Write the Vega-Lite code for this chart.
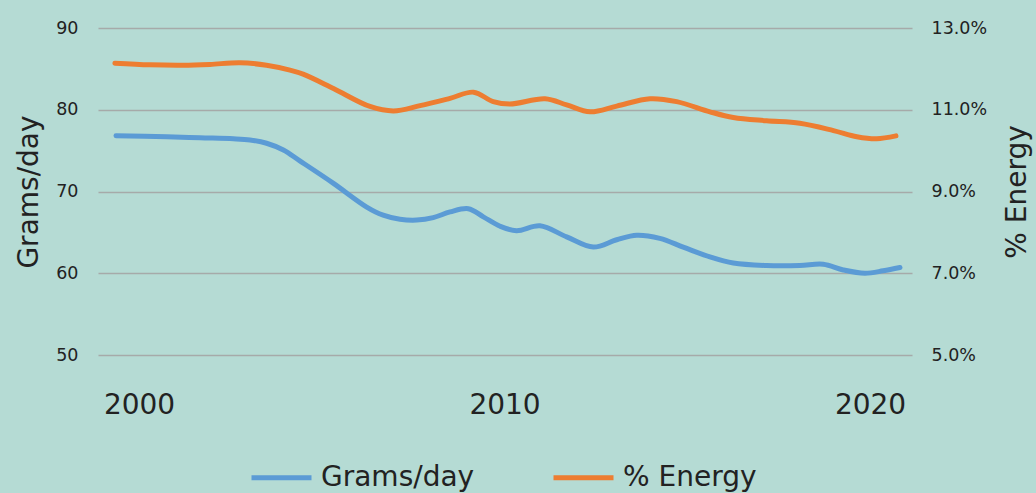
{
  "$schema": "https://vega.github.io/schema/vega-lite/v6.json",
  "width": 814,
  "height": 327,
  "autosize": {"type": "none"},
  "padding": {"left": 98, "top": 28, "right": 124, "bottom": 138},
  "background": "#b5dbd4",
  "config": {
    "view": {"stroke": null},
    "font": "DejaVu Sans",
    "axis": {"labelColor": "#222222", "titleColor": "#222222", "labelFont": "DejaVu Sans", "titleFont": "DejaVu Sans", "titleFontWeight": "normal"},
    "legend": {"labelColor": "#222222", "labelFont": "DejaVu Sans"}
  },
  "data": {
    "values": [
      {"year": 1999.37, "series": "Grams/day", "value": 76.82},
      {"year": 2000.76, "series": "Grams/day", "value": 76.70},
      {"year": 2001.67, "series": "Grams/day", "value": 76.57},
      {"year": 2002.58, "series": "Grams/day", "value": 76.45},
      {"year": 2003.04, "series": "Grams/day", "value": 76.30},
      {"year": 2003.49, "series": "Grams/day", "value": 75.90},
      {"year": 2003.95, "series": "Grams/day", "value": 75.07},
      {"year": 2004.40, "series": "Grams/day", "value": 73.75},
      {"year": 2005.32, "series": "Grams/day", "value": 71.00},
      {"year": 2006.23, "series": "Grams/day", "value": 68.10},
      {"year": 2006.68, "series": "Grams/day", "value": 67.10},
      {"year": 2007.14, "series": "Grams/day", "value": 66.60},
      {"year": 2007.60, "series": "Grams/day", "value": 66.50},
      {"year": 2008.05, "series": "Grams/day", "value": 66.80},
      {"year": 2008.51, "series": "Grams/day", "value": 67.50},
      {"year": 2009.01, "series": "Grams/day", "value": 67.90},
      {"year": 2009.42, "series": "Grams/day", "value": 66.90},
      {"year": 2009.88, "series": "Grams/day", "value": 65.75},
      {"year": 2010.33, "series": "Grams/day", "value": 65.20},
      {"year": 2010.97, "series": "Grams/day", "value": 65.80},
      {"year": 2011.70, "series": "Grams/day", "value": 64.45},
      {"year": 2012.43, "series": "Grams/day", "value": 63.20},
      {"year": 2013.07, "series": "Grams/day", "value": 64.10},
      {"year": 2013.62, "series": "Grams/day", "value": 64.65},
      {"year": 2014.25, "series": "Grams/day", "value": 64.26},
      {"year": 2014.89, "series": "Grams/day", "value": 63.20},
      {"year": 2015.62, "series": "Grams/day", "value": 62.00},
      {"year": 2016.26, "series": "Grams/day", "value": 61.25},
      {"year": 2017.17, "series": "Grams/day", "value": 60.95},
      {"year": 2018.08, "series": "Grams/day", "value": 60.95},
      {"year": 2018.72, "series": "Grams/day", "value": 61.10},
      {"year": 2019.27, "series": "Grams/day", "value": 60.40},
      {"year": 2019.86, "series": "Grams/day", "value": 60.00},
      {"year": 2020.36, "series": "Grams/day", "value": 60.30},
      {"year": 2020.82, "series": "Grams/day", "value": 60.70},
      {"year": 1999.34, "series": "% Energy", "value": 0.1214},
      {"year": 2000.30, "series": "% Energy", "value": 0.1210},
      {"year": 2001.21, "series": "% Energy", "value": 0.1209},
      {"year": 2001.94, "series": "% Energy", "value": 0.1211},
      {"year": 2002.76, "series": "% Energy", "value": 0.1215},
      {"year": 2003.49, "series": "% Energy", "value": 0.1209},
      {"year": 2004.13, "series": "% Energy", "value": 0.1197},
      {"year": 2004.49, "series": "% Energy", "value": 0.1187},
      {"year": 2005.32, "series": "% Energy", "value": 0.1152},
      {"year": 2006.32, "series": "% Energy", "value": 0.1108},
      {"year": 2006.96, "series": "% Energy", "value": 0.1097},
      {"year": 2007.69, "series": "% Energy", "value": 0.1110},
      {"year": 2008.51, "series": "% Energy", "value": 0.1128},
      {"year": 2009.15, "series": "% Energy", "value": 0.1143},
      {"year": 2009.69, "series": "% Energy", "value": 0.1120},
      {"year": 2010.15, "series": "% Energy", "value": 0.1114},
      {"year": 2011.11, "series": "% Energy", "value": 0.1127},
      {"year": 2011.70, "series": "% Energy", "value": 0.1112},
      {"year": 2012.34, "series": "% Energy", "value": 0.1095},
      {"year": 2013.07, "series": "% Energy", "value": 0.1109},
      {"year": 2013.98, "series": "% Energy", "value": 0.1127},
      {"year": 2014.71, "series": "% Energy", "value": 0.1120},
      {"year": 2015.62, "series": "% Energy", "value": 0.1095},
      {"year": 2016.26, "series": "% Energy", "value": 0.1081},
      {"year": 2017.17, "series": "% Energy", "value": 0.1073},
      {"year": 2018.08, "series": "% Energy", "value": 0.1067},
      {"year": 2019.00, "series": "% Energy", "value": 0.1049},
      {"year": 2019.64, "series": "% Energy", "value": 0.1034},
      {"year": 2020.18, "series": "% Energy", "value": 0.1029},
      {"year": 2020.71, "series": "% Energy", "value": 0.1036}
    ]
  },
  "layer": [
    {
      "transform": [{"filter": "datum.series === 'Grams/day'"}],
      "mark": {"type": "line", "interpolate": "catmull-rom", "strokeWidth": 5, "strokeCap": "round", "strokeJoin": "round"},
      "encoding": {
        "x": {
          "field": "year", "type": "quantitative",
          "scale": {"domain": [1998.878, 2021.149], "nice": false, "zero": false},
          "axis": {"values": [2000, 2010, 2020], "format": "d", "title": null, "grid": false, "ticks": false, "domain": false, "labelFontSize": 28, "labelPadding": 36}
        },
        "y": {
          "field": "value", "type": "quantitative",
          "scale": {"domain": [50, 90], "nice": false, "zero": false},
          "axis": {"values": [50, 60, 70, 80, 90], "title": "Grams/day", "titleFontSize": 28, "titlePadding": 12, "labelFontSize": 17.5, "labelPadding": 20, "ticks": false, "domain": false, "grid": true, "gridColor": "#a6aaa9", "gridWidth": 1.5}
        },
        "color": {
          "field": "series", "type": "nominal",
          "scale": {"domain": ["Grams/day", "% Energy"], "range": ["#5b9bd5", "#ed7d31"]},
          "legend": {"orient": "none", "legendX": 151, "legendY": 417, "direction": "horizontal", "title": null, "symbolType": "stroke", "symbolSize": 3600, "symbolStrokeWidth": 5, "labelFontSize": 28, "labelOffset": 7, "columnPadding": 68}
        }
      }
    },
    {
      "transform": [{"filter": "datum.series === '% Energy'"}],
      "mark": {"type": "line", "interpolate": "catmull-rom", "strokeWidth": 5, "strokeCap": "round", "strokeJoin": "round"},
      "encoding": {
        "x": {"field": "year", "type": "quantitative"},
        "y": {
          "field": "value", "type": "quantitative",
          "scale": {"domain": [0.05, 0.13], "nice": false, "zero": false},
          "axis": {"orient": "right", "values": [0.05, 0.07, 0.09, 0.11, 0.13], "format": ".1%", "title": "% Energy", "titleAngle": 270, "titleFontSize": 28, "titlePadding": 45, "labelFontSize": 17.5, "labelPadding": 19, "ticks": false, "domain": false, "grid": false}
        },
        "color": {"field": "series", "type": "nominal"}
      }
    }
  ],
  "resolve": {"scale": {"y": "independent"}}
}
